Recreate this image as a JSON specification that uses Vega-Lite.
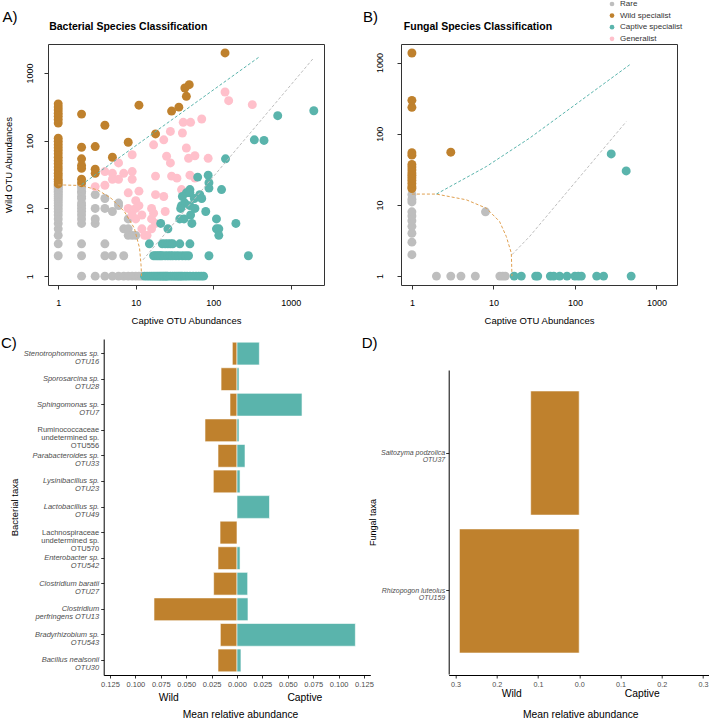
{
"$schema": "https://vega.github.io/schema/vega-lite/v6.json",
"background": "white",
"padding": {"left": 1, "top": 0, "right": 0, "bottom": 0},
"config": {"font": "Liberation Sans", "view": {"stroke": null}, "axis": {"grid": false}, "title": {"color": "#000", "subtitleColor": "#000"}},
"datasets": {
"bact": [
{"captive":1,"wild":2,"class":"Rare"},{"captive":1,"wild":3,"class":"Rare"},{"captive":1,"wild":4,"class":"Rare"},{"captive":1,"wild":5,"class":"Rare"},{"captive":1,"wild":6,"class":"Rare"},{"captive":1,"wild":7,"class":"Rare"},{"captive":1,"wild":8,"class":"Rare"},{"captive":1,"wild":9,"class":"Rare"},{"captive":1,"wild":10,"class":"Rare"},{"captive":1,"wild":11,"class":"Rare"},{"captive":1,"wild":12,"class":"Rare"},{"captive":1,"wild":13,"class":"Rare"},{"captive":1,"wild":14,"class":"Rare"},{"captive":1,"wild":15,"class":"Rare"},{"captive":1,"wild":16,"class":"Rare"},{"captive":1,"wild":17,"class":"Rare"},{"captive":1,"wild":18,"class":"Rare"},{"captive":1,"wild":19,"class":"Rare"},{"captive":1,"wild":20,"class":"Rare"},{"captive":1,"wild":21,"class":"Rare"},{"captive":1,"wild":22,"class":"Rare"},
{"captive":2,"wild":1,"class":"Rare"},{"captive":2,"wild":2,"class":"Rare"},{"captive":2,"wild":3,"class":"Rare"},{"captive":2,"wild":6,"class":"Rare"},{"captive":2,"wild":7,"class":"Rare"},{"captive":2,"wild":8,"class":"Rare"},{"captive":2,"wild":9,"class":"Rare"},{"captive":2,"wild":10,"class":"Rare"},{"captive":2,"wild":11,"class":"Rare"},{"captive":2,"wild":12,"class":"Rare"},{"captive":2,"wild":14,"class":"Rare"},{"captive":2,"wild":15,"class":"Rare"},{"captive":2,"wild":17,"class":"Rare"},{"captive":2,"wild":18,"class":"Rare"},{"captive":2,"wild":20,"class":"Rare"},{"captive":2,"wild":22,"class":"Rare"},
{"captive":3,"wild":1,"class":"Rare"},{"captive":3,"wild":6,"class":"Rare"},{"captive":3,"wild":7,"class":"Rare"},{"captive":3,"wild":10,"class":"Rare"},{"captive":3,"wild":16,"class":"Rare"},
{"captive":4,"wild":1,"class":"Rare"},{"captive":4,"wild":2,"class":"Rare"},{"captive":4,"wild":3,"class":"Rare"},{"captive":4,"wild":10,"class":"Rare"},{"captive":4,"wild":14,"class":"Rare"},
{"captive":5,"wild":1,"class":"Rare"},{"captive":5,"wild":2,"class":"Rare"},{"captive":5,"wild":9,"class":"Rare"},
{"captive":6,"wild":1,"class":"Rare"},{"captive":6,"wild":11,"class":"Rare"},{"captive":6,"wild":12,"class":"Rare"},
{"captive":7,"wild":1,"class":"Rare"},{"captive":7,"wild":2,"class":"Rare"},{"captive":7,"wild":5,"class":"Rare"},
{"captive":8,"wild":1,"class":"Rare"},{"captive":8,"wild":4,"class":"Rare"},{"captive":8,"wild":5,"class":"Rare"},{"captive":8,"wild":7,"class":"Rare"},
{"captive":9,"wild":1,"class":"Rare"},{"captive":9,"wild":4,"class":"Rare"},{"captive":10,"wild":1,"class":"Rare"},{"captive":10,"wild":4,"class":"Rare"},{"captive":11,"wild":1,"class":"Rare"},{"captive":12,"wild":1,"class":"Rare"},
{"captive":1,"wild":23,"class":"Wild specialist"},{"captive":1,"wild":25,"class":"Wild specialist"},{"captive":1,"wild":27,"class":"Wild specialist"},{"captive":1,"wild":30,"class":"Wild specialist"},{"captive":1,"wild":33,"class":"Wild specialist"},{"captive":1,"wild":37,"class":"Wild specialist"},{"captive":1,"wild":41,"class":"Wild specialist"},{"captive":1,"wild":46,"class":"Wild specialist"},{"captive":1,"wild":51,"class":"Wild specialist"},{"captive":1,"wild":57,"class":"Wild specialist"},{"captive":1,"wild":64,"class":"Wild specialist"},{"captive":1,"wild":71,"class":"Wild specialist"},{"captive":1,"wild":79,"class":"Wild specialist"},{"captive":1,"wild":88,"class":"Wild specialist"},{"captive":1,"wild":98,"class":"Wild specialist"},{"captive":1,"wild":109,"class":"Wild specialist"},{"captive":1,"wild":182,"class":"Wild specialist"},{"captive":1,"wild":205,"class":"Wild specialist"},{"captive":1,"wild":230,"class":"Wild specialist"},{"captive":1,"wild":255,"class":"Wild specialist"},{"captive":1,"wild":285,"class":"Wild specialist"},{"captive":1,"wild":315,"class":"Wild specialist"},{"captive":1,"wild":350,"class":"Wild specialist"},
{"captive":2,"wild":24,"class":"Wild specialist"},{"captive":2,"wild":27,"class":"Wild specialist"},{"captive":2,"wild":39,"class":"Wild specialist"},{"captive":2,"wild":43,"class":"Wild specialist"},{"captive":2,"wild":54,"class":"Wild specialist"},{"captive":2,"wild":80,"class":"Wild specialist"},{"captive":2,"wild":247,"class":"Wild specialist"},
{"captive":3,"wild":33,"class":"Wild specialist"},{"captive":3,"wild":38,"class":"Wild specialist"},{"captive":3,"wild":82,"class":"Wild specialist"},{"captive":4,"wild":169,"class":"Wild specialist"},{"captive":5,"wild":57,"class":"Wild specialist"},{"captive":8,"wild":95,"class":"Wild specialist"},{"captive":11,"wild":335,"class":"Wild specialist"},{"captive":18,"wild":126,"class":"Wild specialist"},{"captive":29,"wild":274,"class":"Wild specialist"},{"captive":36,"wild":313,"class":"Wild specialist"},{"captive":45,"wild":452,"class":"Wild specialist"},{"captive":43,"wild":600,"class":"Wild specialist"},{"captive":49,"wild":672,"class":"Wild specialist"},{"captive":142,"wild":1976,"class":"Wild specialist"},
{"captive":142,"wild":524,"class":"Generalist"},{"captive":158,"wild":390,"class":"Generalist"},{"captive":319,"wild":341,"class":"Generalist"},{"captive":71,"wild":209,"class":"Generalist"},{"captive":51,"wild":187,"class":"Generalist"},{"captive":41,"wild":187,"class":"Generalist"},{"captive":28,"wild":137,"class":"Generalist"},{"captive":40,"wild":130,"class":"Generalist"},{"captive":17,"wild":87,"class":"Generalist"},{"captive":23,"wild":103,"class":"Generalist"},{"captive":9,"wild":62,"class":"Generalist"},{"captive":45,"wild":78,"class":"Generalist"},{"captive":25,"wild":59,"class":"Generalist"},{"captive":28,"wild":47,"class":"Generalist"},{"captive":48,"wild":55,"class":"Generalist"},{"captive":58,"wild":60,"class":"Generalist"},{"captive":86,"wild":55,"class":"Generalist"},{"captive":6,"wild":47,"class":"Generalist"},{"captive":4,"wild":35,"class":"Generalist"},{"captive":5,"wild":33,"class":"Generalist"},{"captive":7,"wild":33,"class":"Generalist"},{"captive":5,"wild":27,"class":"Generalist"},{"captive":6,"wild":27,"class":"Generalist"},{"captive":4,"wild":22,"class":"Generalist"},{"captive":3,"wild":21,"class":"Generalist"},{"captive":9,"wild":35,"class":"Generalist"},{"captive":9,"wild":27,"class":"Generalist"},{"captive":18,"wild":30,"class":"Generalist"},{"captive":29,"wild":30,"class":"Generalist"},{"captive":34,"wild":28,"class":"Generalist"},{"captive":50,"wild":31,"class":"Generalist"},{"captive":58,"wild":28,"class":"Generalist"},{"captive":8,"wild":17,"class":"Generalist"},{"captive":11,"wild":18,"class":"Generalist"},{"captive":18,"wild":16,"class":"Generalist"},{"captive":23,"wild":15,"class":"Generalist"},{"captive":39,"wild":19,"class":"Generalist"},{"captive":10,"wild":13,"class":"Generalist"},{"captive":11,"wild":11,"class":"Generalist"},{"captive":10,"wild":10,"class":"Generalist"},{"captive":12,"wild":8,"class":"Generalist"},{"captive":16,"wild":10,"class":"Generalist"},{"captive":17,"wild":8.5,"class":"Generalist"},{"captive":16,"wild":7,"class":"Generalist"},{"captive":18,"wild":6,"class":"Generalist"},{"captive":24,"wild":9,"class":"Generalist"},{"captive":8,"wild":10,"class":"Generalist"},{"captive":9,"wild":8,"class":"Generalist"},{"captive":10,"wild":7,"class":"Generalist"},{"captive":12,"wild":5,"class":"Generalist"},{"captive":16,"wild":5,"class":"Generalist"},{"captive":14,"wild":4,"class":"Generalist"},{"captive":13,"wild":4,"class":"Generalist"},
{"captive":63,"wild":29,"class":"Captive specialist"},{"captive":86,"wild":31,"class":"Captive specialist"},{"captive":88,"wild":24,"class":"Captive specialist"},{"captive":88,"wild":20,"class":"Captive specialist"},{"captive":128,"wild":19,"class":"Captive specialist"},{"captive":50,"wild":19,"class":"Captive specialist"},{"captive":45,"wild":17,"class":"Captive specialist"},{"captive":50,"wild":17,"class":"Captive specialist"},{"captive":40,"wild":15,"class":"Captive specialist"},{"captive":57,"wild":14,"class":"Captive specialist"},{"captive":67,"wild":16,"class":"Captive specialist"},{"captive":71,"wild":14,"class":"Captive specialist"},{"captive":43,"wild":12,"class":"Captive specialist"},{"captive":39,"wild":11,"class":"Captive specialist"},{"captive":50,"wild":11,"class":"Captive specialist"},{"captive":38,"wild":10,"class":"Captive specialist"},{"captive":58,"wild":10,"class":"Captive specialist"},{"captive":80,"wild":9,"class":"Captive specialist"},{"captive":51,"wild":8,"class":"Captive specialist"},{"captive":37,"wild":7,"class":"Captive specialist"},{"captive":42,"wild":7,"class":"Captive specialist"},{"captive":53,"wild":6,"class":"Captive specialist"},{"captive":110,"wild":7,"class":"Captive specialist"},{"captive":196,"wild":6,"class":"Captive specialist"},{"captive":110,"wild":5,"class":"Captive specialist"},{"captive":118,"wild":5,"class":"Captive specialist"},{"captive":118,"wild":4,"class":"Captive specialist"},{"captive":21,"wild":6,"class":"Captive specialist"},{"captive":26,"wild":5,"class":"Captive specialist"},{"captive":144,"wild":54,"class":"Captive specialist"},{"captive":339,"wild":103,"class":"Captive specialist"},{"captive":452,"wild":101,"class":"Captive specialist"},{"captive":679,"wild":234,"class":"Captive specialist"},{"captive":1983,"wild":277,"class":"Captive specialist"},
{"captive":15,"wild":3,"class":"Captive specialist"},{"captive":22,"wild":3,"class":"Captive specialist"},{"captive":24,"wild":3,"class":"Captive specialist"},{"captive":26,"wild":3,"class":"Captive specialist"},{"captive":28,"wild":3,"class":"Captive specialist"},{"captive":30,"wild":3,"class":"Captive specialist"},{"captive":37,"wild":3,"class":"Captive specialist"},{"captive":50,"wild":3,"class":"Captive specialist"},
{"captive":17,"wild":2,"class":"Captive specialist"},{"captive":18,"wild":2,"class":"Captive specialist"},{"captive":19,"wild":2,"class":"Captive specialist"},{"captive":20,"wild":2,"class":"Captive specialist"},{"captive":21,"wild":2,"class":"Captive specialist"},{"captive":22,"wild":2,"class":"Captive specialist"},{"captive":24,"wild":2,"class":"Captive specialist"},{"captive":26,"wild":2,"class":"Captive specialist"},{"captive":28,"wild":2,"class":"Captive specialist"},{"captive":30,"wild":2,"class":"Captive specialist"},{"captive":33,"wild":2,"class":"Captive specialist"},{"captive":36,"wild":2,"class":"Captive specialist"},{"captive":40,"wild":2,"class":"Captive specialist"},{"captive":44,"wild":2,"class":"Captive specialist"},{"captive":48,"wild":2,"class":"Captive specialist"},{"captive":88,"wild":2,"class":"Captive specialist"},{"captive":284,"wild":2,"class":"Captive specialist"},
{"captive":13,"wild":1,"class":"Captive specialist"},{"captive":14,"wild":1,"class":"Captive specialist"},{"captive":15,"wild":1,"class":"Captive specialist"},{"captive":16,"wild":1,"class":"Captive specialist"},{"captive":17,"wild":1,"class":"Captive specialist"},{"captive":18,"wild":1,"class":"Captive specialist"},{"captive":19,"wild":1,"class":"Captive specialist"},{"captive":20,"wild":1,"class":"Captive specialist"},{"captive":21,"wild":1,"class":"Captive specialist"},{"captive":22,"wild":1,"class":"Captive specialist"},{"captive":23,"wild":1,"class":"Captive specialist"},{"captive":24,"wild":1,"class":"Captive specialist"},{"captive":25,"wild":1,"class":"Captive specialist"},{"captive":26,"wild":1,"class":"Captive specialist"},{"captive":28,"wild":1,"class":"Captive specialist"},{"captive":30,"wild":1,"class":"Captive specialist"},{"captive":32,"wild":1,"class":"Captive specialist"},{"captive":34,"wild":1,"class":"Captive specialist"},{"captive":36,"wild":1,"class":"Captive specialist"},{"captive":38,"wild":1,"class":"Captive specialist"},{"captive":40,"wild":1,"class":"Captive specialist"},{"captive":43,"wild":1,"class":"Captive specialist"},{"captive":46,"wild":1,"class":"Captive specialist"},{"captive":50,"wild":1,"class":"Captive specialist"},{"captive":55,"wild":1,"class":"Captive specialist"},{"captive":60,"wild":1,"class":"Captive specialist"},{"captive":65,"wild":1,"class":"Captive specialist"},{"captive":70,"wild":1,"class":"Captive specialist"},{"captive":75,"wild":1,"class":"Captive specialist"}
],
"bact_lines": [
{"boundary":"wild specialist limit","captive":2,"wild":22.4},{"boundary":"wild specialist limit","captive":401,"wild":1759},
{"boundary":"captive specialist limit","captive":12.4,"wild":1.74},{"boundary":"captive specialist limit","captive":1968,"wild":1660},
{"boundary":"rare limit","captive":1,"wild":22.3},{"boundary":"rare limit","captive":1.96,"wild":21.8},{"boundary":"rare limit","captive":3.22,"wild":18.8},{"boundary":"rare limit","captive":4.79,"wild":14.2},{"boundary":"rare limit","captive":7.13,"wild":9.0},{"boundary":"rare limit","captive":9.6,"wild":5.1},{"boundary":"rare limit","captive":11.2,"wild":2.6},{"boundary":"rare limit","captive":11.7,"wild":1.47},{"boundary":"rare limit","captive":11.9,"wild":1.0}
],
"fung": [
{"captive":1,"wild":2,"class":"Rare"},{"captive":1,"wild":3,"class":"Rare"},{"captive":1,"wild":4,"class":"Rare"},{"captive":1,"wild":5,"class":"Rare"},{"captive":1,"wild":6,"class":"Rare"},{"captive":1,"wild":7,"class":"Rare"},{"captive":1,"wild":8,"class":"Rare"},{"captive":1,"wild":11,"class":"Rare"},{"captive":1,"wild":12,"class":"Rare"},{"captive":1,"wild":14,"class":"Rare"},{"captive":8,"wild":8,"class":"Rare"},
{"captive":2,"wild":1,"class":"Rare"},{"captive":3,"wild":1,"class":"Rare"},{"captive":4,"wild":1,"class":"Rare"},{"captive":6,"wild":1,"class":"Rare"},{"captive":12,"wild":1,"class":"Rare"},{"captive":13,"wild":1,"class":"Rare"},{"captive":14,"wild":1,"class":"Rare"},
{"captive":1,"wild":17,"class":"Wild specialist"},{"captive":1,"wild":18,"class":"Wild specialist"},{"captive":1,"wild":20,"class":"Wild specialist"},{"captive":1,"wild":22,"class":"Wild specialist"},{"captive":1,"wild":24,"class":"Wild specialist"},{"captive":1,"wild":26,"class":"Wild specialist"},{"captive":1,"wild":28,"class":"Wild specialist"},{"captive":1,"wild":31,"class":"Wild specialist"},{"captive":1,"wild":34,"class":"Wild specialist"},{"captive":1,"wild":37,"class":"Wild specialist"},{"captive":1,"wild":50,"class":"Wild specialist"},{"captive":1,"wild":54,"class":"Wild specialist"},{"captive":1,"wild":235,"class":"Wild specialist"},{"captive":1,"wild":294,"class":"Wild specialist"},{"captive":1,"wild":1360,"class":"Wild specialist"},{"captive":3,"wild":55,"class":"Wild specialist"},
{"captive":279,"wild":52,"class":"Captive specialist"},{"captive":426,"wild":30,"class":"Captive specialist"},
{"captive":18,"wild":1,"class":"Captive specialist"},{"captive":22,"wild":1,"class":"Captive specialist"},{"captive":33,"wild":1,"class":"Captive specialist"},{"captive":35,"wild":1,"class":"Captive specialist"},{"captive":50,"wild":1,"class":"Captive specialist"},{"captive":55,"wild":1,"class":"Captive specialist"},{"captive":65,"wild":1,"class":"Captive specialist"},{"captive":80,"wild":1,"class":"Captive specialist"},{"captive":100,"wild":1,"class":"Captive specialist"},{"captive":110,"wild":1,"class":"Captive specialist"},{"captive":120,"wild":1,"class":"Captive specialist"},{"captive":185,"wild":1,"class":"Captive specialist"},{"captive":225,"wild":1,"class":"Captive specialist"},{"captive":490,"wild":1,"class":"Captive specialist"}
],
"fung_lines": [
{"boundary":"wild specialist limit","captive":2,"wild":14.2},{"boundary":"wild specialist limit","captive":8.2,"wild":34.6},{"boundary":"wild specialist limit","captive":27.8,"wild":86.7},{"boundary":"wild specialist limit","captive":114,"wild":283},{"boundary":"wild specialist limit","captive":470,"wild":929},
{"boundary":"captive specialist limit","captive":16.9,"wild":2.0},{"boundary":"captive specialist limit","captive":27.8,"wild":3.6},{"boundary":"captive specialist limit","captive":427,"wild":148},
{"boundary":"rare limit","captive":1,"wild":14.2},{"boundary":"rare limit","captive":1.99,"wild":14.2},{"boundary":"rare limit","captive":4.65,"wild":11.8},{"boundary":"rare limit","captive":8.18,"wild":9.0},{"boundary":"rare limit","captive":11.9,"wild":5.85},{"boundary":"rare limit","captive":14.4,"wild":3.6},{"boundary":"rare limit","captive":16.6,"wild":2.1},{"boundary":"rare limit","captive":16.9,"wild":1.0}
],
"bact_bars": [
{"taxon":"Stenotrophomonas sp.|OTU16","group":"Wild","value":-0.0046},{"taxon":"Stenotrophomonas sp.|OTU16","group":"Captive","value":0.022},
{"taxon":"Sporosarcina sp.|OTU28","group":"Wild","value":-0.0157},{"taxon":"Sporosarcina sp.|OTU28","group":"Captive","value":0.002},
{"taxon":"Sphingomonas sp.|OTU7","group":"Wild","value":-0.0069},{"taxon":"Sphingomonas sp.|OTU7","group":"Captive","value":0.064},
{"taxon":"Ruminococcaceae|undetermined sp.|OTU556","group":"Wild","value":-0.0315},{"taxon":"Ruminococcaceae|undetermined sp.|OTU556","group":"Captive","value":0.002},
{"taxon":"Parabacteroides sp.|OTU33","group":"Wild","value":-0.0187},{"taxon":"Parabacteroides sp.|OTU33","group":"Captive","value":0.0079},
{"taxon":"Lysinibacillus sp.|OTU23","group":"Wild","value":-0.0233},{"taxon":"Lysinibacillus sp.|OTU23","group":"Captive","value":0.003},
{"taxon":"Lactobacillus sp.|OTU49","group":"Captive","value":0.032},
{"taxon":"Lachnospiraceae|undetermined sp.|OTU570","group":"Wild","value":-0.0167},
{"taxon":"Enterobacter sp.|OTU542","group":"Wild","value":-0.0187},{"taxon":"Enterobacter sp.|OTU542","group":"Captive","value":0.003},
{"taxon":"Clostridium baratii|OTU27","group":"Wild","value":-0.023},{"taxon":"Clostridium baratii|OTU27","group":"Captive","value":0.0105},
{"taxon":"Clostridium|perfringens OTU13","group":"Wild","value":-0.0817},{"taxon":"Clostridium|perfringens OTU13","group":"Captive","value":0.0108},
{"taxon":"Bradyrhizobium sp.|OTU543","group":"Wild","value":-0.0164},{"taxon":"Bradyrhizobium sp.|OTU543","group":"Captive","value":0.1165},
{"taxon":"Bacillus nealsonii|OTU30","group":"Wild","value":-0.0187},{"taxon":"Bacillus nealsonii|OTU30","group":"Captive","value":0.0039}
],
"fung_bars": [
{"taxon":"Saitozyma podzolica|OTU37","group":"Wild","value":-0.1176},
{"taxon":"Rhizopogon luteolus|OTU159","group":"Wild","value":-0.2903}
]
},
"vconcat": [
{"hconcat": [
 {
  "width": 276, "height": 241,
  "view": {"stroke": "#333", "strokeWidth": 1},
  "title": {"text": "A)", "subtitle": "\u200b\u00a0\u00a0\u00a0\u00a0\u00a0\u00a0\u00a0\u00a0\u00a0\u00a0\u00a0\u00a0\u00a0\u00a0\u00a0\u00a0Bacterial Species Classification", "anchor": "start", "frame": "group", "dx": -45.5, "fontSize": 15, "fontWeight": "normal", "subtitleFontSize": 10.5, "subtitleFontWeight": "bold", "subtitlePadding": -3, "offset": 12},
  "layer": [
   {"data": {"name": "bact"}, "mark": {"type": "circle", "size": 80, "opacity": 1},
    "encoding": {
     "x": {"field": "captive", "type": "quantitative", "scale": {"type": "log", "domain": [0.738, 2685], "nice": false},
       "axis": {"values": [1,10,100,1000], "format": "d", "domain": false, "tickSize": 4, "tickColor": "#333", "labelFontSize": 9, "labelColor": "#000", "labelPadding": 9.5, "labelFlush": false, "title": "Captive OTU Abundances", "titleFontSize": 9.5, "titleFontWeight": "normal", "titleColor": "#000", "titlePadding": 7.5}},
     "y": {"field": "wild", "type": "quantitative", "scale": {"type": "log", "domain": [0.74, 2680], "nice": false},
       "axis": {"values": [1,10,100,1000], "format": "d", "domain": false, "tickSize": 4, "tickColor": "#333", "labelAngle": 270, "labelAlign": "center", "labelBaseline": "bottom", "labelFontSize": 9, "labelColor": "#000", "labelPadding": 10, "labelFlush": false, "title": "Wild OTU Abundances", "titleFontSize": 9.5, "titleFontWeight": "normal", "titleColor": "#000", "titlePadding": 12}},
     "color": {"field": "class", "type": "nominal", "scale": {"domain": ["Rare","Wild specialist","Captive specialist","Generalist"], "range": ["#BEBEBE","#BF812D","#5AB4AC","#FFC0CB"]},
       "legend": {"orient": "none", "legendX": 560, "legendY": -44, "title": null, "symbolType": "circle", "symbolSize": 22, "symbolStrokeWidth": 0, "labelFontSize": 8, "labelColor": "#333", "rowPadding": 3.6, "labelOffset": 4, "padding": 0}}
    }},
   {"data": {"name": "bact_lines"}, "mark": {"type": "line", "strokeDash": [3,2], "strokeWidth": 1},
    "encoding": {
     "x": {"field": "captive", "type": "quantitative"},
     "y": {"field": "wild", "type": "quantitative"},
     "stroke": {"field": "boundary", "type": "nominal", "scale": {"domain": ["wild specialist limit","captive specialist limit","rare limit"], "range": ["#5AB4AC","#BEBEBE","#E0A050"]}, "legend": null}
    }}
  ]},
 {
  "width": 276, "height": 241,
  "view": {"stroke": "#333", "strokeWidth": 1},
  "title": {"text": "B)", "subtitle": "\u200b\u00a0\u00a0\u00a0\u00a0\u00a0\u00a0\u00a0\u00a0\u00a0\u00a0\u00a0\u00a0\u00a0\u00a0Fungal Species Classification", "anchor": "start", "frame": "group", "dx": -38, "fontSize": 15, "fontWeight": "normal", "subtitleFontSize": 10.5, "subtitleFontWeight": "bold", "subtitlePadding": -3, "offset": 12},
  "layer": [
   {"data": {"name": "fung"}, "mark": {"type": "circle", "size": 80, "opacity": 1},
    "encoding": {
     "x": {"field": "captive", "type": "quantitative", "scale": {"type": "log", "domain": [0.735, 1790], "nice": false},
       "axis": {"values": [1,10,100,1000], "format": "d", "domain": false, "tickSize": 4, "tickColor": "#333", "labelFontSize": 9, "labelColor": "#000", "labelPadding": 9.5, "labelFlush": false, "title": "Captive OTU Abundances", "titleFontSize": 9.5, "titleFontWeight": "normal", "titleColor": "#000", "titlePadding": 7.5}},
     "y": {"field": "wild", "type": "quantitative", "scale": {"type": "log", "domain": [0.75, 1820], "nice": false},
       "axis": {"values": [1,10,100,1000], "format": "d", "domain": false, "tickSize": 4, "tickColor": "#333", "labelAngle": 270, "labelAlign": "center", "labelBaseline": "bottom", "labelFontSize": 9, "labelColor": "#000", "labelPadding": 13, "labelFlush": false, "title": null}},
     "color": {"field": "class", "type": "nominal", "scale": {"domain": ["Rare","Wild specialist","Captive specialist","Generalist"], "range": ["#BEBEBE","#BF812D","#5AB4AC","#FFC0CB"]},
       "legend": {"orient": "none", "legendX": 560, "legendY": -44, "title": null, "symbolType": "circle", "symbolSize": 22, "symbolStrokeWidth": 0, "labelFontSize": 8, "labelColor": "#333", "rowPadding": 3.6, "labelOffset": 4, "padding": 0}}
    }},
   {"data": {"name": "fung_lines"}, "mark": {"type": "line", "strokeDash": [3,2], "strokeWidth": 1},
    "encoding": {
     "x": {"field": "captive", "type": "quantitative"},
     "y": {"field": "wild", "type": "quantitative"},
     "stroke": {"field": "boundary", "type": "nominal", "scale": {"domain": ["wild specialist limit","captive specialist limit","rare limit"], "range": ["#5AB4AC","#BEBEBE","#E0A050"]}, "legend": null}
    }}
  ]}
 ],
 "spacing": 77, "bounds": "flush"
},
{"hconcat": [
 {
  "width": 322.3, "height": 336,
  "title": {"text": "C)", "anchor": "start", "frame": "group", "dx": -47, "fontSize": 15, "fontWeight": "normal", "offset": -12},
  "data": {"name": "bact_bars"},
  "mark": {"type": "bar", "stroke": "white", "strokeWidth": 0.6},
  "encoding": {
   "y": {"field": "taxon", "type": "nominal", "sort": null, "scale": {"paddingInner": 0.11, "paddingOuter": 0.125},
     "axis": {"title": "Bacterial taxa", "offset": -55.7, "domainColor": "#000", "tickColor": "#333", "tickSize": 3, "labelFontSize": 7.5, "labelColor": "#4D4D4D", "labelPadding": 2, "labelExpr": "split(datum.label, '|')", "labelLineHeight": 8,
       "labelFontStyle": {"condition": {"test": "indexof(datum.value, 'undetermined') >= 0", "value": "normal"}, "value": "italic"},
       "titleFontSize": 9.5, "titleFontWeight": "normal", "titleColor": "#000", "titlePadding": 4}},
   "x": {"field": "value", "type": "quantitative", "stack": null, "scale": {"domain": [-0.1312, 0.1312], "range": [55.7, 322.3], "nice": false, "zero": false},
     "axis": {"values": [-0.125,-0.1,-0.075,-0.05,-0.025,0,0.025,0.05,0.075,0.1,0.125], "labelExpr": "format(abs(datum.value), '.3f')", "domainColor": "#000", "tickColor": "#333", "tickSize": 3, "labelFontSize": 7.5, "labelColor": "#4D4D4D", "labelPadding": 2, "labelFlush": false, "labelOverlap": false,
       "title": ["Wild\u00a0\u00a0\u00a0\u00a0\u00a0\u00a0\u00a0\u00a0\u00a0\u00a0\u00a0\u00a0\u00a0\u00a0\u00a0\u00a0\u00a0\u00a0\u00a0\u00a0\u00a0\u00a0\u00a0\u00a0\u00a0\u00a0\u00a0\u00a0\u00a0\u00a0\u00a0\u00a0\u00a0\u00a0\u00a0\u00a0\u00a0\u00a0Captive", "Mean relative abundance"], "titleFontSize": 10.3, "titleLineHeight": 17.5, "titleFontWeight": "normal", "titleColor": "#000", "titlePadding": 4.5, "titleX": 192, "titleAlign": "center"}},
   "color": {"field": "group", "type": "nominal", "scale": {"domain": ["Wild","Captive"], "range": ["#BF812D","#5AB4AC"]}, "legend": null}
  }},
 {
  "width": 261, "height": 336,
  "title": {"text": "D)", "anchor": "start", "frame": "group", "dx": -87, "fontSize": 15, "fontWeight": "normal", "offset": -12},
  "data": {"name": "fung_bars"},
  "mark": {"type": "bar", "stroke": "white", "strokeWidth": 0.6},
  "encoding": {
   "y": {"field": "taxon", "type": "nominal", "sort": null, "scale": {"range": [31, 335], "paddingInner": 0.1, "paddingOuter": 0.152},
     "axis": {"title": "Fungal taxa", "domainColor": "#000", "tickColor": "#333", "tickSize": 3, "labelFontSize": 7, "labelColor": "#4D4D4D", "labelPadding": 1, "labelExpr": "split(datum.label, '|')", "labelLineHeight": 6.8, "labelFontStyle": "italic",
       "titleFontSize": 9, "titleFontWeight": "normal", "titleColor": "#000", "titlePadding": 3}},
   "x": {"field": "value", "type": "quantitative", "stack": null, "scale": {"domain": [-0.3163, 0.3163], "nice": false, "zero": false},
     "axis": {"values": [-0.3,-0.2,-0.1,0,0.1,0.2,0.3], "labelExpr": "format(abs(datum.value), '.1f')", "domainColor": "#000", "tickColor": "#333", "tickSize": 3, "labelFontSize": 7.2, "labelColor": "#4D4D4D", "labelPadding": 2, "labelFlush": false, "labelOverlap": false,
       "title": ["Wild\u00a0\u00a0\u00a0\u00a0\u00a0\u00a0\u00a0\u00a0\u00a0\u00a0\u00a0\u00a0\u00a0\u00a0\u00a0\u00a0\u00a0\u00a0\u00a0\u00a0\u00a0\u00a0\u00a0\u00a0\u00a0\u00a0\u00a0\u00a0\u00a0\u00a0\u00a0\u00a0\u00a0\u00a0\u00a0\u00a0Captive", "Mean relative abundance"], "titleFontSize": 10.3, "titleLineHeight": 21.5, "titleFontWeight": "normal", "titleColor": "#000", "titlePadding": 1, "titleX": 131.5, "titleAlign": "center"}},
   "color": {"field": "group", "type": "nominal", "scale": {"domain": ["Wild","Captive"], "range": ["#BF812D","#5AB4AC"]}, "legend": null}
  }}
 ],
 "spacing": 77.7, "bounds": "flush"
}
],
"spacing": 11,
"resolve": {"scale": {"color": "independent", "stroke": "independent"}, "legend": {"color": "independent", "stroke": "independent"}}
}
